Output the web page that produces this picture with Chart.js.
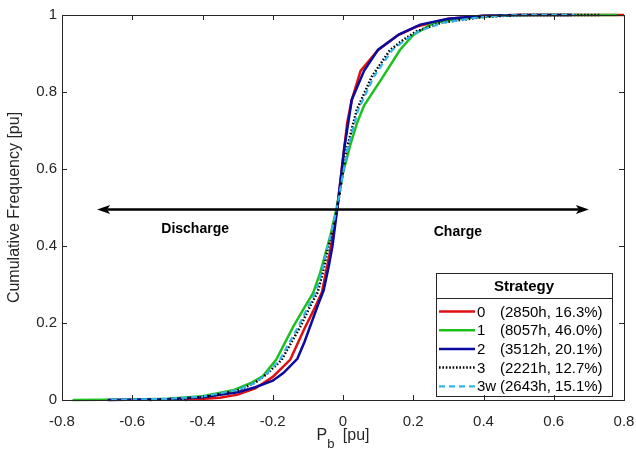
<!DOCTYPE html>
<html>
<head>
<meta charset="utf-8">
<title>Cumulative frequency of battery power</title>
<script src="https://cdn.jsdelivr.net/npm/chart.js@4/dist/chart.umd.min.js"></script>
<style>
  html, body { margin: 0; padding: 0; background: #ffffff; }
  #wrap { width: 636px; height: 459px; position: relative; }
</style>
</head>
<body>
<div id="wrap"><canvas id="cdf" width="636" height="459"></canvas></div>
<script>
// Strategy labels and operating statistics
const strategyNames  = ['0', '1', '2', '3', '3w'];
const strategyHours  = [2850, 8057, 3512, 2221, 2643];
const strategyShares = [16.3, 46.0, 20.1, 12.7, 15.1];

// Empirical CDF of battery power P_b [pu] for each strategy
const pb0 = [-0.45, -0.35, -0.30, -0.25, -0.20, -0.15, -0.11, -0.08, -0.06, -0.036, -0.016, 0.003, 0.012, 0.025, 0.05, 0.10, 0.157, 0.21, 0.30, 0.40, 0.50, 0.80];
const cf0 = [0, 0.006, 0.014, 0.03, 0.06, 0.105, 0.185, 0.24, 0.28, 0.39, 0.50, 0.65, 0.72, 0.78, 0.855, 0.909, 0.948, 0.97, 0.99, 0.998, 1, 1];

const pb1 = [-0.77, -0.60, -0.50, -0.40, -0.31, -0.26, -0.228, -0.19, -0.142, -0.11, -0.085, -0.065, -0.05, -0.035, -0.018, 0, 0.02, 0.04, 0.06, 0.114, 0.162, 0.20, 0.257, 0.33, 0.45, 0.55, 0.78];
const cf1 = [0, 0.001, 0.003, 0.01, 0.026, 0.045, 0.062, 0.105, 0.19, 0.24, 0.278, 0.33, 0.38, 0.43, 0.50, 0.59, 0.66, 0.72, 0.765, 0.84, 0.909, 0.948, 0.979, 0.99, 0.999, 1, 1];

const pb2 = [-0.67, -0.50, -0.40, -0.30, -0.25, -0.20, -0.17, -0.13, -0.11, -0.09, -0.07, -0.055, -0.04, -0.03, -0.016, 0.003, 0.025, 0.06, 0.10, 0.16, 0.22, 0.30, 0.40, 0.50, 0.65];
const cf2 = [0, 0.002, 0.007, 0.02, 0.033, 0.05, 0.07, 0.107, 0.15, 0.20, 0.25, 0.285, 0.35, 0.40, 0.50, 0.65, 0.78, 0.855, 0.91, 0.95, 0.975, 0.99, 0.998, 1, 1];

const pb3 = [-0.55, -0.45, -0.38, -0.30, -0.25, -0.22, -0.175, -0.122, -0.09, -0.072, -0.055, -0.044, -0.03, -0.016, 0.01, 0.039, 0.082, 0.134, 0.171, 0.21, 0.28, 0.40, 0.50, 0.73];
const cf3 = [0, 0.004, 0.01, 0.025, 0.045, 0.065, 0.104, 0.19, 0.25, 0.28, 0.34, 0.39, 0.44, 0.50, 0.649, 0.753, 0.84, 0.909, 0.935, 0.958, 0.98, 0.995, 1, 1];

const pb3w = [-0.66, -0.50, -0.40, -0.30, -0.25, -0.22, -0.18, -0.128, -0.095, -0.078, -0.058, -0.046, -0.032, -0.017, 0.012, 0.043, 0.088, 0.14, 0.177, 0.215, 0.285, 0.40, 0.50, 0.66];
const cf3w = [0, 0.003, 0.009, 0.026, 0.045, 0.066, 0.104, 0.19, 0.25, 0.28, 0.34, 0.39, 0.44, 0.50, 0.649, 0.753, 0.84, 0.909, 0.935, 0.958, 0.98, 0.996, 1, 1];

// Axis ticks
const pbTicks = [-0.8, -0.6, -0.4, -0.2, 0, 0.2, 0.4, 0.6, 0.8];
const cfTicks = [0, 0.2, 0.4, 0.6, 0.8, 1];

// Direction arrow and its annotations (data coordinates)
const arrowPb = [-0.70, 0.70];
const arrowCf = 0.495;
const dirLabels = ['Discharge', 'Charge'];
const dirLabelPb = [-0.421, 0.327];
const dirLabelCf = [0.445, 0.436];

const AXIS_COLOR = '#262626';
const FONT = "'Liberation Sans', Arial, Helvetica, sans-serif";

const toPoints = (xs, ys) => xs.map((x, i) => ({ x: x, y: ys[i] }));

const seriesX = [pb0, pb1, pb2, pb3, pb3w];
const seriesY = [cf0, cf1, cf2, cf3, cf3w];
const seriesColor = ['#e01010', '#1ec01e', '#0a0aa0', '#000000', '#33b5ea'];
const seriesDash = [[], [], [], [1.6, 1.8], [6, 4]];
const seriesWidth = [2.5, 2.5, 2.5, 2.5, 2.2];
const seriesOrder = [4, 3, 2, 1, 0];

const legendText = strategyNames.map((n, i) =>
  '(' + strategyHours[i] + 'h, ' + strategyShares[i].toFixed(1) + '%)');

const datasets = strategyNames.map((name, i) => ({
  label: name,
  data: toPoints(seriesX[i], seriesY[i]),
  showLine: true,
  borderColor: seriesColor[i],
  backgroundColor: seriesColor[i],
  borderWidth: seriesWidth[i],
  borderDash: seriesDash[i],
  borderCapStyle: 'butt',
  pointRadius: 0,
  pointHoverRadius: 0,
  tension: 0,
  fill: false,
  order: seriesOrder[i],
  clip: 4
}));

// Draws the frame with inward tick marks, the direction arrow, the
// legend box and the x-axis title with its subscript.
const decorations = {
  id: 'decorations',
  afterDatasetsDraw(chart) {
    const ctx = chart.ctx;
    const area = chart.chartArea;
    const xs = chart.scales.x;
    const ys = chart.scales.y;

    // direction arrow
    const ay = ys.getPixelForValue(arrowCf);
    const ax0 = xs.getPixelForValue(arrowPb[0]);
    const ax1 = xs.getPixelForValue(arrowPb[1]);
    const headLen = 13, headHalf = 4.5, notch = 3;
    ctx.save();
    ctx.strokeStyle = '#000';
    ctx.fillStyle = '#000';
    ctx.lineWidth = 2.5;
    ctx.beginPath();
    ctx.moveTo(ax0 + headLen - notch, ay);
    ctx.lineTo(ax1 - headLen + notch, ay);
    ctx.stroke();
    [[ax0, 1], [ax1, -1]].forEach(([tip, dir]) => {
      ctx.beginPath();
      ctx.moveTo(tip, ay);
      ctx.lineTo(tip + dir * headLen, ay - headHalf);
      ctx.lineTo(tip + dir * (headLen - notch), ay);
      ctx.lineTo(tip + dir * headLen, ay + headHalf);
      ctx.closePath();
      ctx.fill();
    });
    ctx.font = 'bold 14px ' + FONT;
    ctx.textAlign = 'center';
    ctx.textBaseline = 'middle';
    dirLabels.forEach((t, i) => {
      ctx.fillText(t, xs.getPixelForValue(dirLabelPb[i]), ys.getPixelForValue(dirLabelCf[i]));
    });
    ctx.restore();

    // legend
    const lw = 176, lh = 123;
    const lx = area.right - 12 - lw;
    const ly = area.bottom - 4 - lh;
    ctx.save();
    ctx.fillStyle = '#ffffff';
    ctx.fillRect(lx, ly, lw, lh);
    ctx.strokeStyle = AXIS_COLOR;
    ctx.lineWidth = 1;
    ctx.strokeRect(lx + 0.5, ly + 0.5, lw, lh);
    ctx.beginPath();
    ctx.moveTo(lx, ly + 25.5);
    ctx.lineTo(lx + lw, ly + 25.5);
    ctx.stroke();
    ctx.fillStyle = '#000';
    ctx.font = 'bold 15px ' + FONT;
    ctx.textAlign = 'center';
    ctx.textBaseline = 'middle';
    ctx.fillText('Strategy', lx + lw / 2, ly + 13.5);
    ctx.font = '15px ' + FONT;
    ctx.textAlign = 'left';
    strategyNames.forEach((name, i) => {
      const ry = ly + 38.5 + i * 18.7;
      ctx.save();
      ctx.strokeStyle = seriesColor[i];
      ctx.lineWidth = seriesWidth[i];
      ctx.setLineDash(seriesDash[i]);
      ctx.beginPath();
      ctx.moveTo(lx + 3, ry);
      ctx.lineTo(lx + 39, ry);
      ctx.stroke();
      ctx.restore();
      ctx.fillStyle = '#000';
      ctx.fillText(name, lx + 41, ry + 1);
      ctx.fillText(legendText[i], lx + 64, ry + 1);
    });
    ctx.restore();

    // frame and inward ticks
    ctx.save();
    ctx.strokeStyle = AXIS_COLOR;
    ctx.lineWidth = 1;
    ctx.strokeRect(area.left + 0.5, area.top + 0.5, area.right - area.left, area.bottom - area.top);
    const tl = 5;
    ctx.beginPath();
    xs.ticks.forEach(t => {
      const px = Math.round(xs.getPixelForValue(t.value)) + 0.5;
      ctx.moveTo(px, area.bottom);
      ctx.lineTo(px, area.bottom - tl);
      ctx.moveTo(px, area.top);
      ctx.lineTo(px, area.top + tl);
    });
    ys.ticks.forEach(t => {
      const py = Math.round(ys.getPixelForValue(t.value)) + 0.5;
      ctx.moveTo(area.left, py);
      ctx.lineTo(area.left + tl, py);
      ctx.moveTo(area.right, py);
      ctx.lineTo(area.right - tl, py);
    });
    ctx.stroke();
    ctx.restore();

    // x-axis title: P_b [pu]
    ctx.save();
    ctx.fillStyle = AXIS_COLOR;
    ctx.textAlign = 'left';
    ctx.textBaseline = 'alphabetic';
    const big = '16px ' + FONT, small = '13px ' + FONT;
    ctx.font = big;
    const wP = ctx.measureText('P').width;
    const wRest = ctx.measureText(' [pu]').width;
    ctx.font = small;
    const wb = ctx.measureText('b').width;
    const total = wP + wb + 4 + wRest;
    let cx = (area.left + area.right) / 2 - total / 2;
    const base = area.bottom + 40;
    ctx.font = big;
    ctx.fillText('P', cx, base);
    cx += wP;
    ctx.font = small;
    ctx.fillText('b', cx, base + 8);
    cx += wb + 4;
    ctx.font = big;
    ctx.fillText(' [pu]', cx, base);
    ctx.restore();
  }
};

new Chart(document.getElementById('cdf'), {
  type: 'scatter',
  data: { datasets: datasets },
  options: {
    responsive: false,
    animation: false,
    devicePixelRatio: 1,
    layout: { padding: { top: 15, right: 12, left: 0, bottom: 0 } },
    plugins: {
      legend: { display: false },
      tooltip: { enabled: false }
    },
    scales: {
      x: {
        type: 'linear',
        min: pbTicks[0],
        max: pbTicks[pbTicks.length - 1],
        afterBuildTicks: s => { s.ticks = pbTicks.map(v => ({ value: v })); },
        afterFit: s => { s.height = 59; s.paddingLeft = 0; s.paddingRight = 0; },
        grid: { display: false, drawTicks: false },
        border: { display: false },
        ticks: {
          color: AXIS_COLOR,
          font: { family: FONT, size: 15 },
          padding: 13,
          maxRotation: 0,
          callback: v => String(Number(v.toFixed(1)))
        }
      },
      y: {
        type: 'linear',
        min: cfTicks[0],
        max: cfTicks[cfTicks.length - 1],
        afterBuildTicks: s => { s.ticks = cfTicks.map(v => ({ value: v })); },
        afterFit: s => { s.width = 62; s.paddingTop = 0; s.paddingBottom = 0; },
        grid: { display: false, drawTicks: false },
        border: { display: false },
        title: {
          display: true,
          text: 'Cumulative Frequency [pu]',
          color: AXIS_COLOR,
          font: { family: FONT, size: 16 },
          padding: { top: 5, bottom: 0 }
        },
        ticks: {
          color: AXIS_COLOR,
          font: { family: FONT, size: 15 },
          padding: 5,
          callback: v => String(Number(v.toFixed(1)))
        }
      }
    }
  },
  plugins: [decorations]
});
</script>
</body>
</html>
